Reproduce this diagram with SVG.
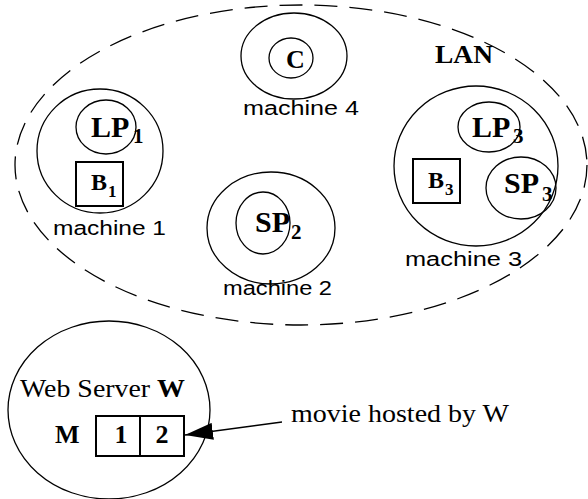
<svg xmlns="http://www.w3.org/2000/svg" width="588" height="499" viewBox="0 0 588 499">
  <style>
    .ring { fill: none; stroke: #000; stroke-width: 1.3; }
    .box { fill: #fff; stroke: #000; stroke-width: 2; }
    .lan { fill: none; stroke: #000; stroke-width: 1.3; stroke-dasharray: 23 12; }
    .sans { font-family: "Liberation Sans", Arial, sans-serif; font-size: 20px; fill: #000; }
    .big { font-family: "Liberation Serif", "Times New Roman", serif; font-weight: bold; font-size: 30px; fill: #000; }
    .sub { font-family: "Liberation Serif", "Times New Roman", serif; font-weight: bold; font-size: 21px; fill: #000; }
    .mid { font-family: "Liberation Serif", "Times New Roman", serif; font-weight: bold; font-size: 24px; fill: #000; }
    .small { font-family: "Liberation Serif", "Times New Roman", serif; font-weight: bold; font-size: 17px; fill: #000; }
    .serif { font-family: "Liberation Serif", "Times New Roman", serif; font-size: 26px; fill: #000; }
    .bserif { font-family: "Liberation Serif", "Times New Roman", serif; font-weight: bold; font-size: 26px; fill: #000; }
  </style>
  <defs>
    <marker id="head" markerUnits="userSpaceOnUse" markerWidth="28" markerHeight="17" refX="28" refY="8.5" orient="auto">
      <path d="M0,0 L28,8.5 L0,17 z" fill="#000"/>
    </marker>
  </defs>

  <rect width="588" height="499" fill="#fff"/>

  <!-- local area network boundary -->
  <g id="lan">
    <ellipse class="lan" cx="301" cy="165" rx="286" ry="160"/>
    <text class="bserif" x="435" y="63" textLength="58" lengthAdjust="spacingAndGlyphs">LAN</text>
  </g>

  <!-- machine 4 with the client -->
  <g id="machine4">
    <ellipse class="ring" cx="294" cy="56" rx="53" ry="43"/>
    <ellipse class="ring" cx="291" cy="58" rx="22" ry="20"/>
    <text class="bserif" x="286" y="68">C</text>
    <text class="sans" x="243" y="115" textLength="116" lengthAdjust="spacingAndGlyphs">machine 4</text>
  </g>

  <!-- machine 1 -->
  <g id="machine1">
    <ellipse class="ring" cx="100" cy="151" rx="63" ry="62"/>
    <ellipse class="ring" cx="106" cy="127" rx="30" ry="27"/>
    <text class="big" x="91" y="137">LP</text>
    <text class="sub" x="133" y="143">1</text>
    <rect class="box" x="76" y="162" width="47" height="44"/>
    <text class="mid" x="91" y="190">B</text>
    <text class="small" x="108" y="197">1</text>
    <text class="sans" x="53" y="235" textLength="113" lengthAdjust="spacingAndGlyphs">machine 1</text>
  </g>

  <!-- machine 2 -->
  <g id="machine2">
    <ellipse class="ring" cx="271" cy="228" rx="64" ry="56"/>
    <ellipse class="ring" cx="263" cy="223" rx="27" ry="31"/>
    <text class="big" x="255" y="232">SP</text>
    <text class="sub" x="291" y="239">2</text>
    <text class="sans" x="223" y="295" textLength="109" lengthAdjust="spacingAndGlyphs">machine 2</text>
  </g>

  <!-- machine 3 -->
  <g id="machine3">
    <ellipse class="ring" cx="476" cy="166" rx="82" ry="80"/>
    <ellipse class="ring" cx="489" cy="127" rx="31" ry="25"/>
    <text class="big" x="472" y="137">LP</text>
    <text class="sub" x="513" y="143">3</text>
    <ellipse class="ring" cx="521" cy="188" rx="35" ry="31"/>
    <text class="big" x="504" y="193">SP</text>
    <text class="sub" x="542" y="201">3</text>
    <rect class="box" x="413" y="159" width="47" height="44"/>
    <text class="mid" x="428" y="188">B</text>
    <text class="small" x="445" y="195">3</text>
    <text class="sans" x="405" y="266" textLength="117" lengthAdjust="spacingAndGlyphs">machine 3</text>
  </g>

  <!-- web server hosting movie M -->
  <g id="webserver">
    <ellipse class="ring" cx="109" cy="410" rx="101" ry="89"/>
    <text class="serif" x="20" y="397" textLength="165" lengthAdjust="spacingAndGlyphs">Web Server <tspan class="bserif">W</tspan></text>
    <text class="bserif" x="55" y="443">M</text>
    <rect class="box" x="96" y="416" width="44" height="40"/>
    <rect class="box" x="140" y="416" width="44" height="40"/>
    <text class="bserif" x="121" y="443" text-anchor="middle">1</text>
    <text class="bserif" x="162" y="443" text-anchor="middle">2</text>
  </g>

  <!-- annotation -->
  <g id="note">
    <text class="serif" x="291" y="422" textLength="218" lengthAdjust="spacingAndGlyphs">movie hosted by W</text>
  </g>

  <g id="connectors">
    <line x1="282" y1="422" x2="185" y2="435" stroke="#000" stroke-width="1.3" marker-end="url(#head)"/>
  </g>
</svg>
